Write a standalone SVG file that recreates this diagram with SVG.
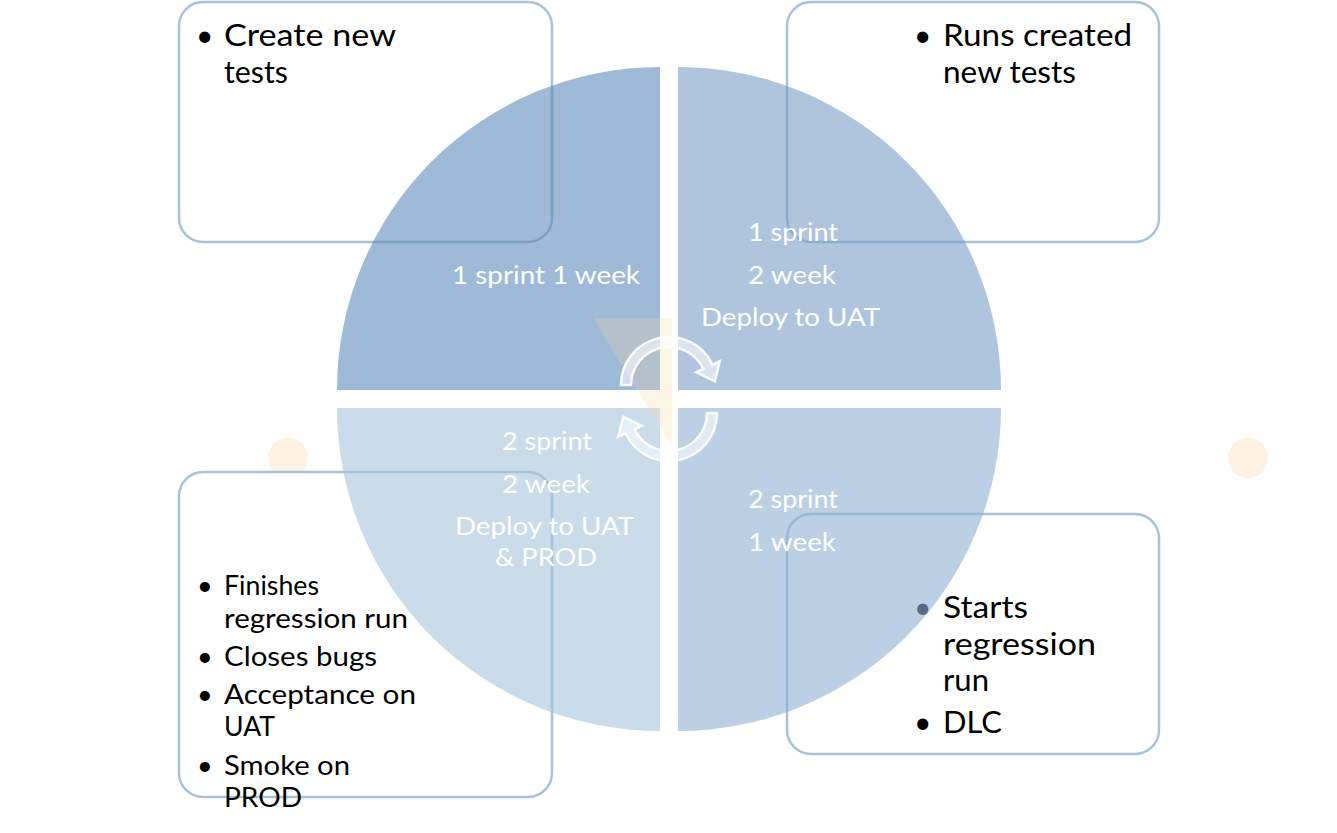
<svg xmlns="http://www.w3.org/2000/svg" width="1337" height="833" viewBox="0 0 1337 833">
<style>
.box{fill:#fff;stroke:#a9c1d9;stroke-width:2.5}
.t{font-family:Lato,"Liberation Sans",sans-serif;font-size:30px;fill:#000}
.ts{font-family:Lato,"Liberation Sans",sans-serif;font-size:27px;fill:#000}
.c{font-family:Lato,"Liberation Sans",sans-serif;font-size:25px;fill:#fff}
.q{opacity:0.6}
.arr{fill:#fff;fill-opacity:0.55;stroke:#fff;stroke-width:2.5;stroke-opacity:0.9}
</style>
<rect width="1337" height="833" fill="#fff"/>
<circle cx="288" cy="458" r="20" fill="#fef2e4"/>
<circle cx="1248" cy="458" r="20" fill="#fef2e4"/>

<g id="box-tl">
<rect class="box" x="179" y="2" width="373" height="240" rx="24"/>
<text class="t" x="196" y="46">•</text>
<text class="t" x="224" y="46" textLength="172" lengthAdjust="spacingAndGlyphs">Create new</text>
<text class="t" x="224" y="83" textLength="64" lengthAdjust="spacingAndGlyphs">tests</text>
</g>
<g id="box-tr">
<rect class="box" x="787" y="2" width="372" height="240" rx="24"/>
<text class="t" x="914" y="46">•</text>
<text class="t" x="943" y="46" textLength="189" lengthAdjust="spacingAndGlyphs">Runs created</text>
<text class="t" x="943" y="83" textLength="133" lengthAdjust="spacingAndGlyphs">new tests</text>
</g>
<g id="box-br">
<rect class="box" x="787" y="514" width="372" height="240" rx="24"/>
<text class="t" x="914" y="618">•</text>
<text class="t" x="943" y="618" textLength="85" lengthAdjust="spacingAndGlyphs">Starts</text>
<text class="t" x="943" y="655" textLength="153" lengthAdjust="spacingAndGlyphs">regression</text>
<text class="t" x="943" y="691" textLength="46" lengthAdjust="spacingAndGlyphs">run</text>
<text class="t" x="914" y="733">•</text>
<text class="t" x="943" y="733" textLength="59" lengthAdjust="spacingAndGlyphs">DLC</text>
</g>
<g id="box-bl">
<rect class="box" x="179" y="472" width="373" height="325" rx="24"/>
<text class="ts" x="197" y="595">•</text>
<text class="ts" x="224" y="595" textLength="95" lengthAdjust="spacingAndGlyphs">Finishes</text>
<text class="ts" x="224" y="628" textLength="184" lengthAdjust="spacingAndGlyphs">regression run</text>
<text class="ts" x="197" y="666">•</text>
<text class="ts" x="224" y="666" textLength="153" lengthAdjust="spacingAndGlyphs">Closes bugs</text>
<text class="ts" x="197" y="704">•</text>
<text class="ts" x="224" y="704" textLength="192" lengthAdjust="spacingAndGlyphs">Acceptance on</text>
<text class="ts" x="224" y="736" textLength="51" lengthAdjust="spacingAndGlyphs">UAT</text>
<text class="ts" x="197" y="775">•</text>
<text class="ts" x="224" y="775" textLength="126" lengthAdjust="spacingAndGlyphs">Smoke on</text>
<text class="ts" x="224" y="807" textLength="78" lengthAdjust="spacingAndGlyphs">PROD</text>
</g>

<g id="quadrants">
<path class="q" d="M660 390 L337 390 A323 323 0 0 1 660 67 Z" fill="#5d8cbb"/>
<path class="q" d="M678 390 L678 67 A323 323 0 0 1 1001 390 Z" fill="#789ec6"/>
<path class="q" d="M660 408 L660 731 A323 323 0 0 1 337 408 Z" fill="#a7c3dc"/>
<path class="q" d="M678 408 L1001 408 A323 323 0 0 1 678 731 Z" fill="#8eb1d2"/>
</g>

<g id="watermark">
<polygon points="593,318 672,318 672,447" fill="#fbd9a8" fill-opacity="0.25"/>
</g>

<g id="labels">
<text class="c" x="452" y="284" textLength="188" lengthAdjust="spacingAndGlyphs">1 sprint 1 week</text>
<text class="c" x="748" y="241" textLength="90" lengthAdjust="spacingAndGlyphs">1 sprint</text>
<text class="c" x="748" y="284" textLength="88" lengthAdjust="spacingAndGlyphs">2 week</text>
<text class="c" x="701" y="326" textLength="179" lengthAdjust="spacingAndGlyphs">Deploy to UAT</text>
<text class="c" x="502" y="450" textLength="90" lengthAdjust="spacingAndGlyphs">2 sprint</text>
<text class="c" x="502" y="493" textLength="88" lengthAdjust="spacingAndGlyphs">2 week</text>
<text class="c" x="455" y="535" textLength="179" lengthAdjust="spacingAndGlyphs">Deploy to UAT</text>
<text class="c" x="495" y="566" textLength="102" lengthAdjust="spacingAndGlyphs">&amp; PROD</text>
<text class="c" x="748" y="508" textLength="90" lengthAdjust="spacingAndGlyphs">2 sprint</text>
<text class="c" x="748" y="551" textLength="88" lengthAdjust="spacingAndGlyphs">1 week</text>
</g>

<g id="connectors">
<path class="arr" d="M621 385 A48 48 0 0 1 712.5 364.7 L719.8 361.3 L714.8 381.3 L696.2 372.3 L703.4 368.9 A38 38 0 0 0 631 385 Z"/>
<path class="arr" d="M717 413 A48 48 0 0 1 625.5 433.3 L618.2 436.7 L623.2 416.7 L641.8 425.7 L634.6 429.1 A38 38 0 0 0 707 413 Z"/>
</g>
</svg>
